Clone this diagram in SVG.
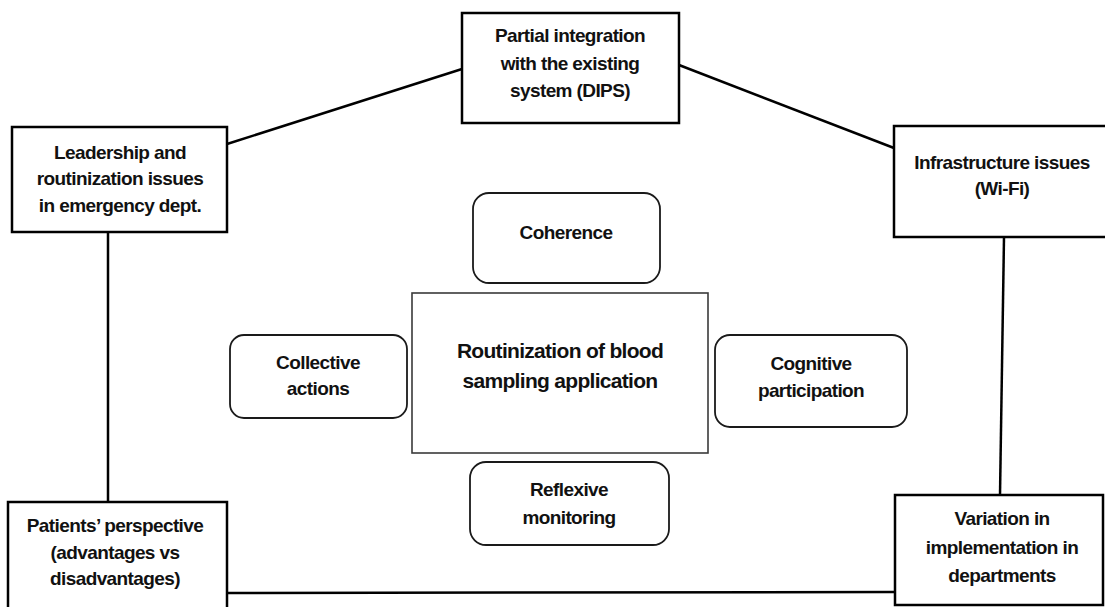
<svg xmlns="http://www.w3.org/2000/svg" width="1105" height="607" viewBox="0 0 1105 607">
  <style>
    .outer { fill: #ffffff; stroke: #000000; stroke-width: 2.5; }
    .inner { fill: #ffffff; stroke: #1a1a1a; stroke-width: 1.8; }
    .core { fill: #ffffff; stroke: #3a3a3a; stroke-width: 1.6; }
    .link { fill: none; stroke: #000000; stroke-width: 2.5; }
    text { font-family: "Liberation Sans", Arial, sans-serif; font-weight: bold; fill: #111111; text-anchor: middle; }
    .lbl { font-size: 19px; letter-spacing: -0.6px; }
    .big { font-size: 21px; letter-spacing: -0.7px; }
  </style>
  <rect width="1105" height="607" fill="#ffffff"/>

  <!-- connectors around the outer ring -->
  <g id="connectors">
    <line class="link" x1="227" y1="144" x2="462" y2="69"/>
    <line class="link" x1="679" y1="65" x2="894" y2="148"/>
    <line class="link" x1="108" y1="232" x2="108" y2="502"/>
    <line class="link" x1="1004" y1="237" x2="1000" y2="495"/>
    <line class="link" x1="227" y1="593" x2="895" y2="592"/>
  </g>

  <g id="partial-integration">
    <rect class="outer" x="462" y="13" width="217" height="110"/>
    <text class="lbl" x="570" y="42">Partial integration</text>
    <text class="lbl" x="570" y="70">with the existing</text>
    <text class="lbl" x="570" y="97">system (DIPS)</text>
  </g>

  <g id="leadership">
    <rect class="outer" x="12" y="127" width="215" height="105"/>
    <text class="lbl" x="120" y="159">Leadership and</text>
    <text class="lbl" x="120" y="185">routinization issues</text>
    <text class="lbl" x="120" y="212">in emergency dept.</text>
  </g>

  <g id="infrastructure">
    <rect class="outer" x="894" y="126" width="215" height="111"/>
    <text class="lbl" x="1002" y="169">Infrastructure issues</text>
    <text class="lbl" x="1002" y="195">(Wi-Fi)</text>
  </g>

  <g id="patients">
    <rect class="outer" x="8" y="502" width="219" height="110"/>
    <text class="lbl" x="115" y="532">Patients’ perspective</text>
    <text class="lbl" x="115" y="559">(advantages vs</text>
    <text class="lbl" x="115" y="585">disadvantages)</text>
  </g>

  <g id="variation">
    <rect class="outer" x="895" y="495" width="208" height="110"/>
    <text class="lbl" x="1002" y="525">Variation in</text>
    <text class="lbl" x="1002" y="554">implementation in</text>
    <text class="lbl" x="1002" y="582">departments</text>
  </g>

  <g id="coherence">
    <rect class="inner" x="473" y="193" width="187" height="90" rx="16"/>
    <text class="lbl" x="566" y="239">Coherence</text>
  </g>

  <g id="routinization">
    <rect class="core" x="412" y="293" width="296" height="160"/>
    <text class="big" x="560" y="358">Routinization of blood</text>
    <text class="big" x="560" y="388">sampling application</text>
  </g>

  <g id="collective-actions">
    <rect class="inner" x="230" y="335" width="177" height="83" rx="14"/>
    <text class="lbl" x="318" y="369">Collective</text>
    <text class="lbl" x="318" y="395">actions</text>
  </g>

  <g id="cognitive-participation">
    <rect class="inner" x="715" y="335" width="192" height="92" rx="15"/>
    <text class="lbl" x="811" y="370">Cognitive</text>
    <text class="lbl" x="811" y="397">participation</text>
  </g>

  <g id="reflexive-monitoring">
    <rect class="inner" x="470" y="462" width="199" height="83" rx="16"/>
    <text class="lbl" x="569" y="496">Reflexive</text>
    <text class="lbl" x="569" y="524">monitoring</text>
  </g>
</svg>
